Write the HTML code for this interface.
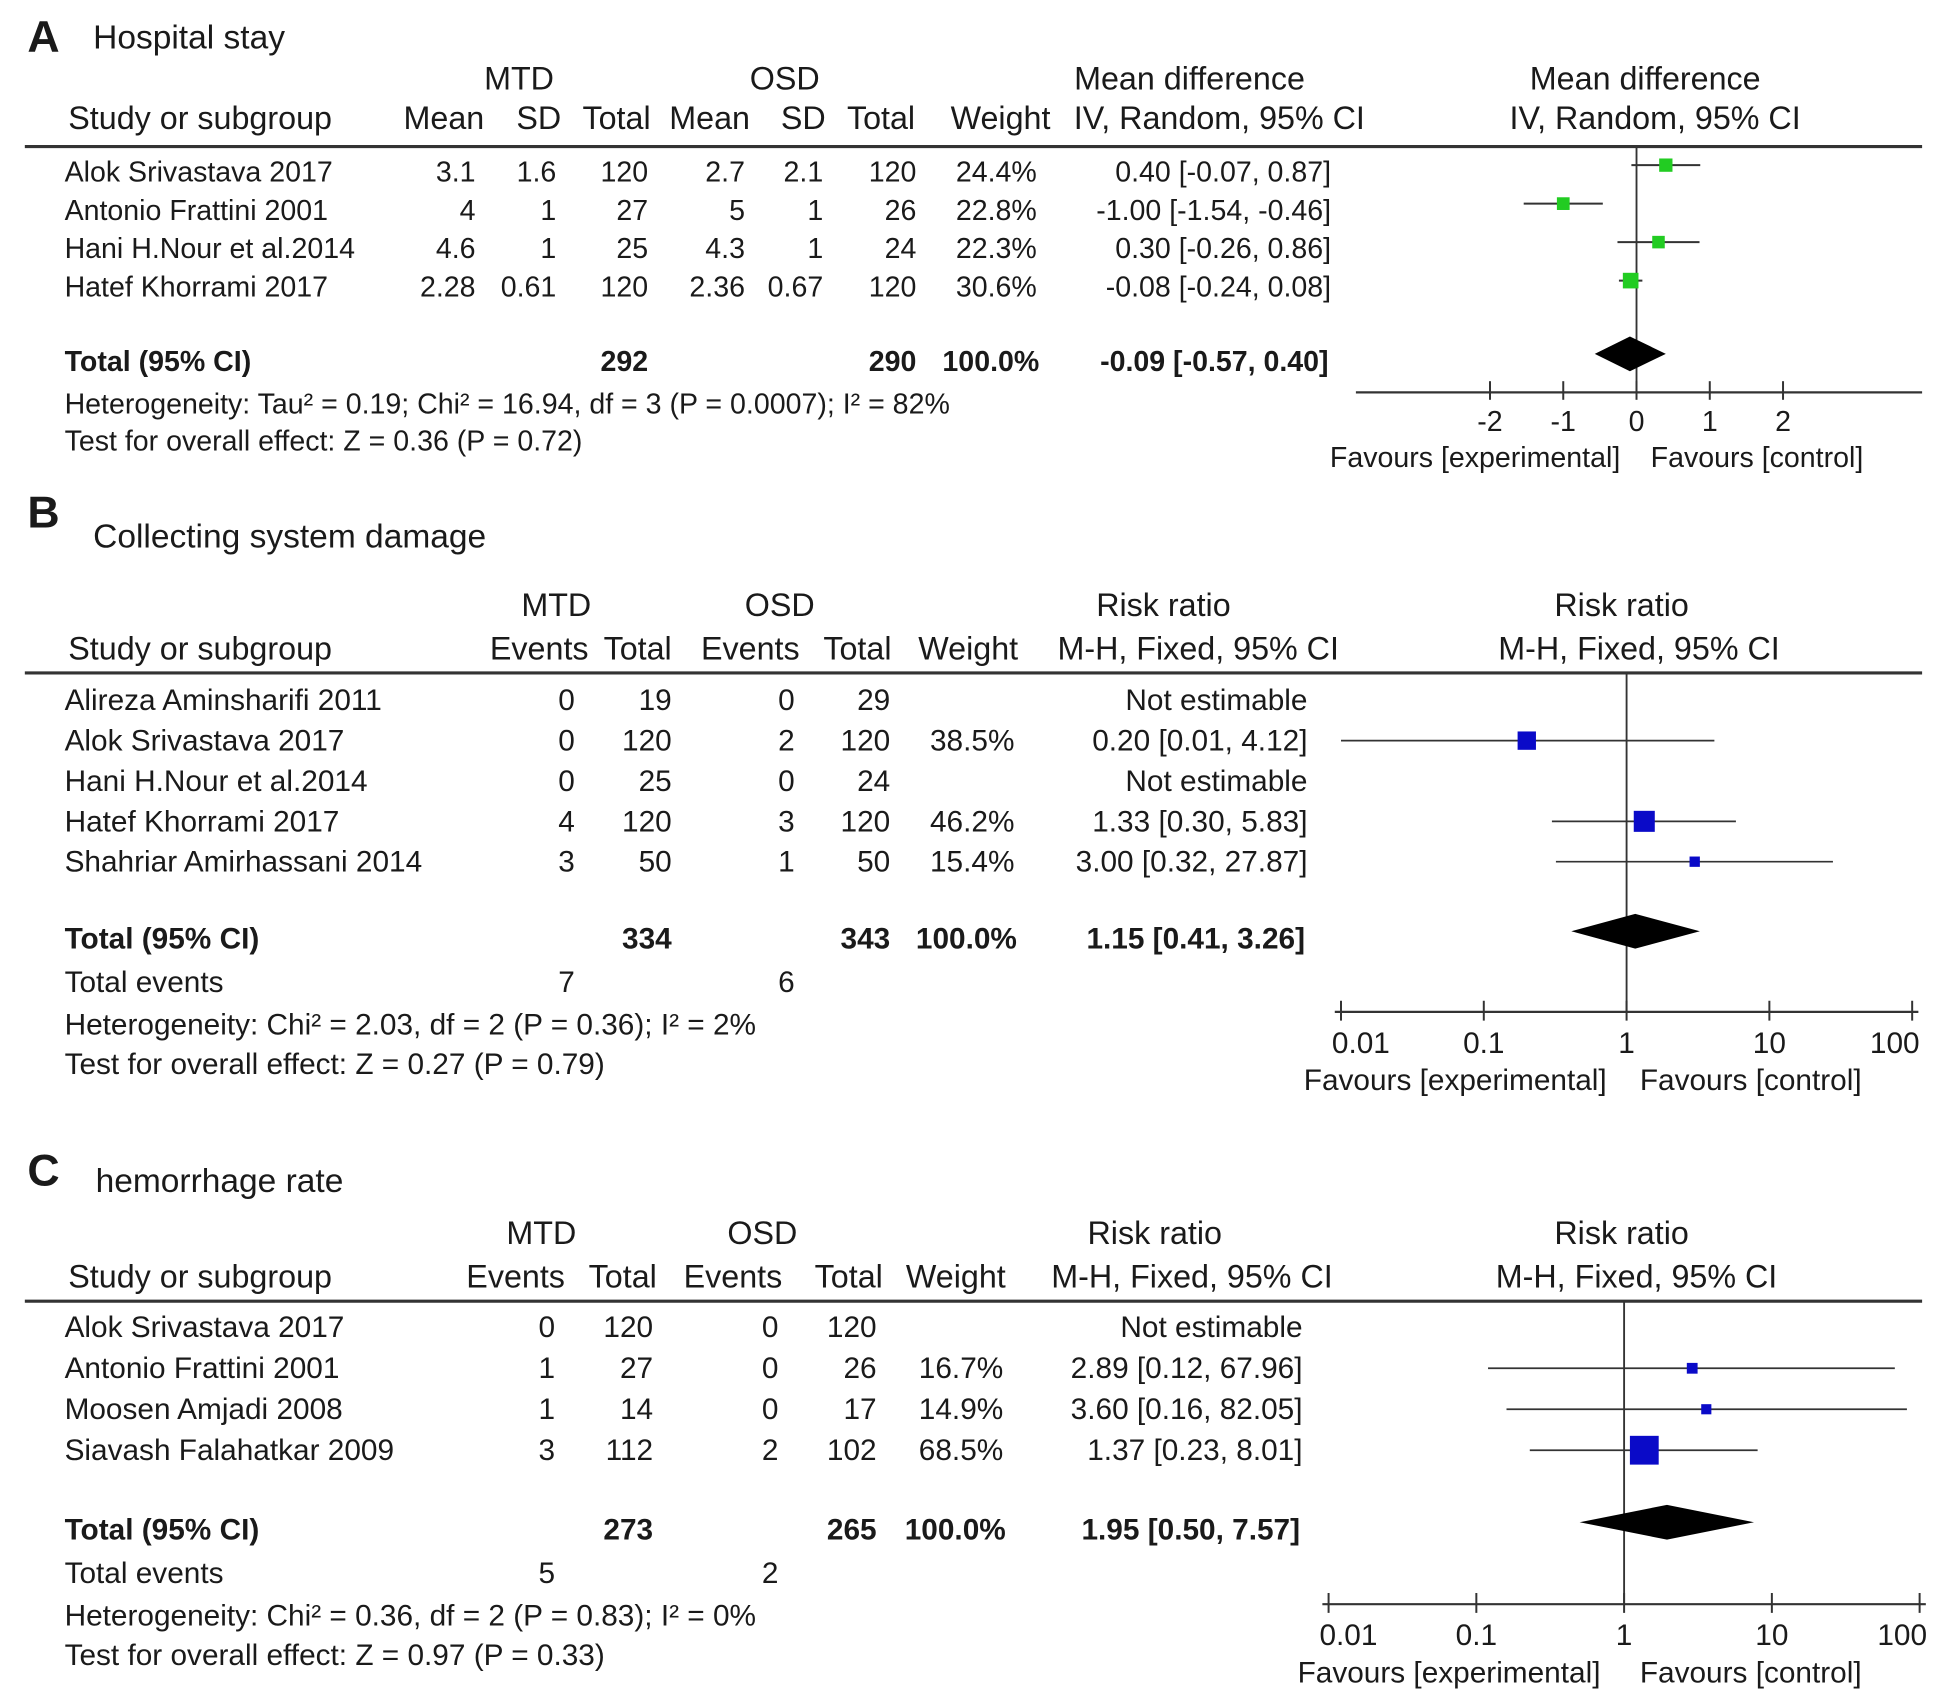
<!DOCTYPE html>
<html><head><meta charset="utf-8"><style>
html,body{margin:0;padding:0;background:#fff;}
svg{display:block;}
text{font-family:"Liberation Sans",Arial,sans-serif;fill:#1a1a1a;}
</style></head><body>
<svg id="fig" xmlns="http://www.w3.org/2000/svg" width="1937" height="1706" viewBox="0 0 1560 1374" preserveAspectRatio="none">
</svg>
<script>
// Panel A data
const aStudies = ["Alok Srivastava 2017","Antonio Frattini 2001","Hani H.Nour et al.2014","Hatef Khorrami 2017"];
const aMtdMean = ["3.1","4","4.6","2.28"];
const aMtdSD = ["1.6","1","1","0.61"];
const aMtdTotal = ["120","27","25","120"];
const aOsdMean = ["2.7","5","4.3","2.36"];
const aOsdSD = ["2.1","1","1","0.67"];
const aOsdTotal = ["120","26","24","120"];
const aWeights = ["24.4%","22.8%","22.3%","30.6%"];
const aEst = [0.40,-1.00,0.30,-0.08];
const aLo = [-0.07,-1.54,-0.26,-0.24];
const aHi = [0.87,-0.46,0.86,0.08];
const aTotal = [-0.09,-0.57,0.40];
const aTicks = [-2,-1,0,1,2];
// Panel B data
const bStudies = ["Alireza Aminsharifi 2011","Alok Srivastava 2017","Hani H.Nour et al.2014","Hatef Khorrami 2017","Shahriar Amirhassani 2014"];
const bMtdEv = ["0","0","0","4","3"];
const bMtdTot = ["19","120","25","120","50"];
const bOsdEv = ["0","2","0","3","1"];
const bOsdTot = ["29","120","24","120","50"];
const bWeights = ["","38.5%","","46.2%","15.4%"];
const bEst = [null,0.20,null,1.33,3.00];
const bLo = [null,0.01,null,0.30,0.32];
const bHi = [null,4.12,null,5.83,27.87];
const bTotal = [1.15,0.41,3.26];
// Panel C data
const cStudies = ["Alok Srivastava 2017","Antonio Frattini 2001","Moosen Amjadi 2008","Siavash Falahatkar 2009"];
const cMtdEv = ["0","1","1","3"];
const cMtdTot = ["120","27","14","112"];
const cOsdEv = ["0","0","0","2"];
const cOsdTot = ["120","26","17","102"];
const cWeights = ["","16.7%","14.9%","68.5%"];
const cEst = [null,2.89,3.60,1.37];
const cLo = [null,0.12,0.16,0.23];
const cHi = [null,67.96,82.05,8.01];
const cTotal = [1.95,0.50,7.57];
const logTicks = [0.01,0.1,1,10,100];

const svg = document.getElementById('fig');
const NS = 'http://www.w3.org/2000/svg';
const HF = 26;
function mk(tag, attrs, name, txt){
  const e = document.createElementNS(NS, tag);
  for (const k in attrs) e.setAttribute(k, attrs[k]);
  
  
  if (txt !== undefined) e.textContent = txt;
  svg.appendChild(e); return e;
}
function T(x,y,s,name,opt){
  opt = opt||{};
  return mk('text',{x:x,y:y,'font-size':opt.fs||23,'text-anchor':opt.a||'start','font-weight':opt.b?'bold':'normal',fill:opt.c||'#1a1a1a'},name,s);
}
function L(x1,y1,x2,y2,name,w){ return mk('line',{x1:x1,y1:y1,x2:x2,y2:y2,stroke:'#333','stroke-width':w||1.5},name); }
function fmt(v){ return v.toFixed(2); }
function ciText(e,l,h){ return fmt(e)+' ['+fmt(l)+', '+fmt(h)+']'; }

// ---------- Panel A ----------
T(22,42,'A','panel-a-letter',{fs:36,b:true});
T(75,39,'Hospital stay','panel-a-title',{fs:27});
T(418,72,'MTD','a-mtd-header',{a:'middle',fs:HF});
T(632,72,'OSD','a-osd-header',{a:'middle',fs:HF});
T(958,72,'Mean difference','a-md-header',{a:'middle',fs:HF});
T(1325,72,'Mean difference','a-plot-header',{a:'middle',fs:HF});
const aHead = [['Study or subgroup',55,'start'],['Mean',390,'end'],['SD',452,'end'],['Total',524,'end'],['Mean',604,'end'],['SD',665,'end'],['Total',737,'end'],['Weight',846,'end']];
aHead.forEach(h=>T(h[1],104,h[0],'a-col-header',{a:h[2],fs:HF}));
T(982,104,'IV, Random, 95% CI','a-ci-header',{a:'middle',fs:HF});
T(1333,104,'IV, Random, 95% CI','a-plot-subheader',{a:'middle',fs:HF});
L(20,118,1548,118,'a-header-rule',2.5);
const ax = v => 1318 + v*59;
const aRowY = i => 146 + i*31;
aStudies.forEach((s,i)=>{
  const y = aRowY(i);
  T(52,y,s,'a-study-name');
  T(383,y,aMtdMean[i],'a-mtd-mean',{a:'end'});
  T(448,y,aMtdSD[i],'a-mtd-sd',{a:'end'});
  T(522,y,aMtdTotal[i],'a-mtd-total',{a:'end'});
  T(600,y,aOsdMean[i],'a-osd-mean',{a:'end'});
  T(663,y,aOsdSD[i],'a-osd-sd',{a:'end'});
  T(738,y,aOsdTotal[i],'a-osd-total',{a:'end'});
  T(835,y,aWeights[i],'a-weight',{a:'end'});
  T(1072,y,ciText(aEst[i],aLo[i],aHi[i]),'a-ci-value',{a:'end'});
});
L(1318,118,1318,316,'a-null-line',1.5);
aStudies.forEach((s,i)=>{
  const y = aRowY(i)-13;
  L(ax(aLo[i]),y,ax(aHi[i]),y,'a-ci-whisker',1.6);
  const sz = 10 + (parseFloat(aWeights[i])-22)*0.3;
  mk('rect',{x:ax(aEst[i])-sz/2,y:y-sz/2,width:sz,height:sz,fill:'#22cc22'},'a-effect-square');
});
T(52,299,'Total (95% CI)','a-total-label',{b:true});
T(522,299,'292','a-mtd-total-sum',{a:'end',b:true});
T(738,299,'290','a-osd-total-sum',{a:'end',b:true});
T(837,299,'100.0%','a-total-weight',{a:'end',b:true});
T(1070,299,ciText(aTotal[0],aTotal[1],aTotal[2]),'a-total-ci',{a:'end',b:true});
mk('polygon',{points:[ax(aTotal[1])+','+285,ax(aTotal[0])+','+271,ax(aTotal[2])+','+285,ax(aTotal[0])+','+299].join(' '),fill:'#000'},'a-pooled-diamond');
T(52,333,'Heterogeneity: Tau² = 0.19; Chi² = 16.94, df = 3 (P = 0.0007); I² = 82%','a-heterogeneity');
T(52,363,'Test for overall effect: Z = 0.36 (P = 0.72)','a-overall-effect');
L(1092,316,1548,316,'a-x-axis',1.8);
aTicks.forEach(t=>{ L(ax(t),307,ax(t),322,'a-x-tick',1.6); T(ax(t),347,String(t),'a-x-tick-label',{a:'middle'}); });
T(1188,376,'Favours [experimental]','a-favours-experimental',{a:'middle',c:'#555'});
T(1415,376,'Favours [control]','a-favours-control',{a:'middle',c:'#555'});

// ---------- Log-scale panels ----------
function logPanel(p){
  const RF = 24;
  const lx = v => p.x1 + Math.log10(v)*p.dec;
  T(22,p.letterY,p.letter,'panel-'+p.id+'-letter',{fs:36,b:true});
  T(p.titleX,p.titleY,p.title,'panel-'+p.id+'-title',{fs:27});
  const hy1 = p.hy-35;
  T(p.mtdX,hy1,'MTD',p.id+'-mtd-header',{a:'middle',fs:HF});
  T(p.osdX,hy1,'OSD',p.id+'-osd-header',{a:'middle',fs:HF});
  T(p.rrX,hy1,'Risk ratio',p.id+'-rr-header',{a:'middle',fs:HF});
  T(1306,hy1,'Risk ratio',p.id+'-plot-header',{a:'middle',fs:HF});
  T(55,p.hy,'Study or subgroup',p.id+'-col-header',{fs:HF});
  p.heads.forEach((h,k)=>T(h[1],p.hy,h[0],p.id+'-col-header',{a:'end',fs:HF}));
  T(p.mhX,p.hy,'M-H, Fixed, 95% CI',p.id+'-ci-header',{a:'middle',fs:HF});
  T(p.mh2X,p.hy,'M-H, Fixed, 95% CI',p.id+'-plot-subheader',{a:'middle',fs:HF});
  L(20,p.hy+11,1548,p.hy+11,p.id+'-header-rule',2.5);
  L(lx(1),p.hy+11,lx(1),p.axY,p.id+'-null-line',1.5);
  const c = p.cols;
  p.studies.forEach((s,i)=>{
    const y = p.r0 + i*p.rs;
    T(52,y,s,p.id+'-study-name',{fs:RF});
    T(c[0],y,p.mEv[i],p.id+'-mtd-events',{a:'end',fs:RF});
    T(c[1],y,p.mTot[i],p.id+'-mtd-total',{a:'end',fs:RF});
    T(c[2],y,p.oEv[i],p.id+'-osd-events',{a:'end',fs:RF});
    T(c[3],y,p.oTot[i],p.id+'-osd-total',{a:'end',fs:RF});
    if (p.w[i]) T(c[4],y,p.w[i],p.id+'-weight',{a:'end',fs:RF});
    if (p.est[i]===null) { T(c[5],y,'Not estimable',p.id+'-ci-value',{a:'end',fs:RF}); return; }
    T(c[5],y,ciText(p.est[i],p.lo[i],p.hi[i]),p.id+'-ci-value',{a:'end',fs:RF});
    const my = y-8;
    L(Math.max(lx(p.lo[i]),p.x0),my,Math.min(lx(p.hi[i]),p.x2),my,p.id+'-ci-whisker',1.4);
    const sz = 4 + parseFloat(p.w[i])*0.28;
    mk('rect',{x:lx(p.est[i])-sz/2,y:my-sz/2,width:sz,height:sz,fill:'#0a0ac8'},p.id+'-effect-square');
  });
  T(52,p.totY,'Total (95% CI)',p.id+'-total-label',{b:true,fs:RF});
  T(c[1],p.totY,p.sums[0],p.id+'-mtd-total-sum',{a:'end',b:true,fs:RF});
  T(c[3],p.totY,p.sums[1],p.id+'-osd-total-sum',{a:'end',b:true,fs:RF});
  T(c[4]+2,p.totY,'100.0%',p.id+'-total-weight',{a:'end',b:true,fs:RF});
  T(c[5]-2,p.totY,ciText(p.tot[0],p.tot[1],p.tot[2]),p.id+'-total-ci',{a:'end',b:true,fs:RF});
  const dy = p.totY-14;
  mk('polygon',{points:[lx(p.tot[1])+','+dy,lx(p.tot[0])+','+(dy-14),lx(p.tot[2])+','+dy,lx(p.tot[0])+','+(dy+14)].join(' '),fill:'#000'},p.id+'-pooled-diamond');
  T(52,p.totY+35,'Total events',p.id+'-total-events-label',{fs:RF});
  T(c[0],p.totY+35,p.ev[0],p.id+'-mtd-events-sum',{a:'end',fs:RF});
  T(c[2],p.totY+35,p.ev[1],p.id+'-osd-events-sum',{a:'end',fs:RF});
  T(52,p.totY+69,p.het,p.id+'-heterogeneity',{fs:RF});
  T(52,p.totY+101,p.test,p.id+'-overall-effect',{fs:RF});
  L(p.x0-5,p.axY,p.x2+5,p.axY,p.id+'-x-axis',1.8);
  logTicks.forEach((t,k)=>{
    L(lx(t),p.axY-9,lx(t),p.axY+7,p.id+'-x-tick',1.6);
    const off = k===0 ? 16 : (k===logTicks.length-1 ? -14 : 0);
    T(lx(t)+off,p.axY+33,String(t),p.id+'-x-tick-label',{a:'middle',fs:RF});
  });
  T(p.fe,p.axY+63,'Favours [experimental]',p.id+'-favours-experimental',{a:'middle',c:'#555',fs:RF});
  T(1410,p.axY+63,'Favours [control]',p.id+'-favours-control',{a:'middle',c:'#555',fs:RF});
}
logPanel({id:'b',letter:'B',letterY:425,title:'Collecting system damage',titleX:75,titleY:441,
  mtdX:448,osdX:628,rrX:937,mhX:965,mh2X:1320,hy:531,
  heads:[['Events',474],['Total',541],['Events',644],['Total',718],['Weight',820]],
  cols:[463,541,640,717,817,1053],r0:572,rs:32.5,
  studies:bStudies,mEv:bMtdEv,mTot:bMtdTot,oEv:bOsdEv,oTot:bOsdTot,w:bWeights,est:bEst,lo:bLo,hi:bHi,
  tot:bTotal,sums:['334','343'],ev:['7','6'],totY:764,
  het:'Heterogeneity: Chi² = 2.03, df = 2 (P = 0.36); I² = 2%',test:'Test for overall effect: Z = 0.27 (P = 0.79)',
  x0:1080,x1:1310,x2:1540,dec:115,axY:815,fe:1172});
logPanel({id:'c',letter:'C',letterY:955,title:'hemorrhage rate',titleX:77,titleY:960,
  mtdX:436,osdX:614,rrX:930,mhX:960,mh2X:1318,hy:1037,
  heads:[['Events',455],['Total',529],['Events',630],['Total',711],['Weight',810]],
  cols:[447,526,627,706,808,1049],r0:1077,rs:33,
  studies:cStudies,mEv:cMtdEv,mTot:cMtdTot,oEv:cOsdEv,oTot:cOsdTot,w:cWeights,est:cEst,lo:cLo,hi:cHi,
  tot:cTotal,sums:['273','265'],ev:['5','2'],totY:1240,
  het:'Heterogeneity: Chi² = 0.36, df = 2 (P = 0.83); I² = 0%',test:'Test for overall effect: Z = 0.97 (P = 0.33)',
  x0:1070,x1:1308,x2:1546,dec:119,axY:1292,fe:1167});
</script>
</body></html>
